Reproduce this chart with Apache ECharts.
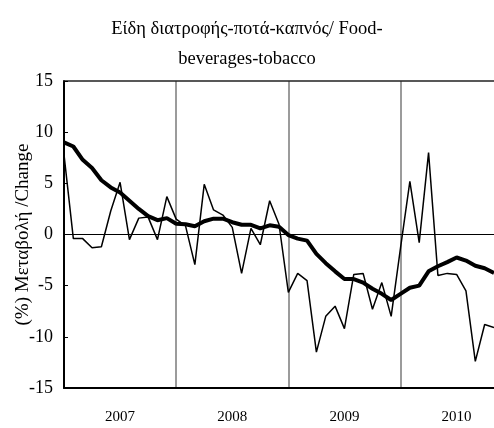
<!DOCTYPE html>
<html>
<head>
<meta charset="utf-8">
<script src="https://cdn.jsdelivr.net/npm/echarts@6/dist/echarts.min.js"></script>
<style>
  html, body { margin: 0; padding: 0; background: #fff; }
  #main { width: 494px; height: 428px; }
</style>
</head>
<body>
<div id="main"></div>
<script>
var years = ['2007', '2008', '2009', '2010'];
var yTicks = { min: -15, max: 15, step: 5 };

// monthly year-on-year change (%)
var monthly = [7.8, -0.4, -0.4, -1.3, -1.2, 2.3, 5.1, -0.5, 1.6, 1.7, -0.5, 3.7,
               1.5, 0.85, -2.95, 4.9, 2.4, 1.9, 0.7, -3.8, 0.6, -1.0, 3.3, 1.0,
               -5.65, -3.8, -4.5, -11.5, -8.0, -7.0, -9.2, -3.9, -3.8, -7.3, -4.7, -8.0,
               -1.3, 5.2, -0.8, 8.0, -4.0, -3.8, -3.9, -5.5, -12.4, -8.8, -9.1];
// 12-month moving average
var average = [9.0, 8.6, 7.3, 6.5, 5.3, 4.6, 4.1, 3.3, 2.5, 1.8, 1.4, 1.6,
               1.05, 1.0, 0.8, 1.3, 1.55, 1.55, 1.2, 0.95, 0.95, 0.6, 0.9, 0.75,
               -0.05, -0.4, -0.6, -1.9, -2.8, -3.6, -4.35, -4.35, -4.7, -5.3, -5.8, -6.4,
               -5.8, -5.2, -5.0, -3.6, -3.1, -2.7, -2.25, -2.55, -3.05, -3.3, -3.75];

var months = [];
years.forEach(function (y) {
  for (var m = 1; m <= 12; m++) months.push(y + '-' + (m < 10 ? '0' + m : m));
});
months = months.slice(0, monthly.length);

var serif = 'Liberation Serif';
var chart = echarts.init(document.getElementById('main'));

chart.setOption({
  animation: false,
  title: {
    text: 'Είδη διατροφής-ποτά-καπνός/ Food-\nbeverages-tobacco',
    left: 'center',
    top: 9,
    textStyle: { fontFamily: serif, fontSize: 18.5, fontWeight: 'normal', color: '#000', lineHeight: 30 }
  },
  grid: { left: 64, top: 81, right: 0, bottom: 40, outerBoundsMode: 'none' },
  xAxis: [{
    type: 'category',
    data: months,
    boundaryGap: false,
    axisLine: { onZero: false, lineStyle: { color: '#000', width: 2 } },
    axisTick: { show: false },
    axisLabel: {
      interval: function (i) { return i % 12 === 6; },
      formatter: function (v) { return v.slice(0, 4); },
      fontFamily: serif, fontSize: 15, color: '#000', margin: 22
    },
    splitLine: {
      show: true,
      interval: function (i) { return i > 0 && i % 12 === 0; },
      lineStyle: { color: '#7a7a7a', width: 1.5 }
    }
  }, {
    type: 'category',
    data: months,
    position: 'top',
    boundaryGap: false,
    axisLine: { show: true, onZero: false, lineStyle: { color: '#222', width: 1.5 } },
    axisTick: { show: false },
    axisLabel: { show: false }
  }],
  yAxis: {
    type: 'value',
    min: yTicks.min,
    max: yTicks.max,
    interval: yTicks.step,
    name: '(%) Μεταβολή /Change',
    nameLocation: 'middle',
    nameGap: 31,
    nameMoveOverlap: false,
    nameTextStyle: { fontFamily: serif, fontSize: 19, color: '#000' },
    axisLine: { show: true, lineStyle: { color: '#000', width: 2 } },
    axisTick: { show: true, inside: true, length: 4, lineStyle: { color: '#000' } },
    axisLabel: { fontFamily: serif, fontSize: 18, color: '#000', margin: 11 },
    splitLine: { show: false }
  },
  series: [{
    type: 'line',
    data: monthly,
    symbol: 'none',
    lineStyle: { color: '#000', width: 1.5 },
    markLine: {
      silent: true,
      symbol: 'none',
      label: { show: false },
      lineStyle: { color: '#000', width: 1, type: 'solid' },
      data: [{ yAxis: 0 }]
    }
  }, {
    type: 'line',
    data: average,
    symbol: 'none',
    lineStyle: { color: '#000', width: 4 }
  }]
});
</script>
</body>
</html>
